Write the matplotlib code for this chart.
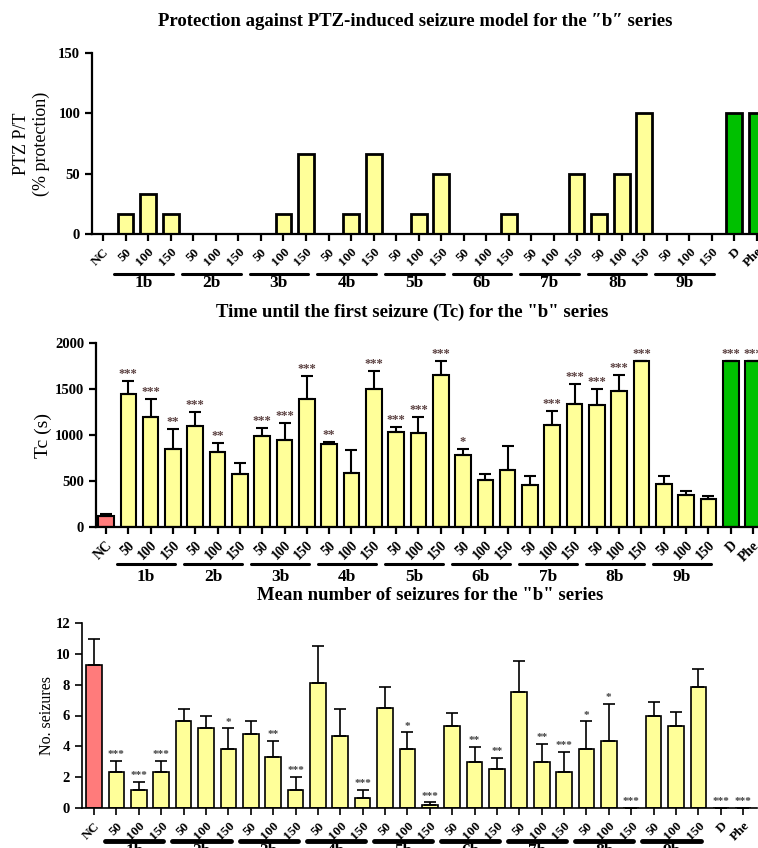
import matplotlib.pyplot as plt
import matplotlib.transforms as mtransforms

plt.rcParams['font.family'] = ['Liberation Serif', 'DejaVu Serif']
plt.rcParams['font.weight'] = 'bold'

labels = ['NC'] + ['50', '100', '150'] * 9 + ['D', 'Phe']
groups = ['1b', '2b', '3b', '4b', '5b', '6b', '7b', '8b', '9b']

# % protection
prot = [0,
        16.7, 33.3, 16.7,
        0, 0, 0,
        0, 16.7, 66.7,
        0, 16.7, 66.7,
        0, 16.7, 50,
        0, 0, 16.7,
        0, 0, 50,
        16.7, 50, 100,
        0, 0, 0,
        100, 100]

# time until first seizure (s)
tc = [120,
      1449, 1192, 848,
      1101, 819, 580,
      989, 949, 1391,
      902, 590, 1500,
      1033, 1022, 1649,
      779, 511, 620,
      460, 1109, 1341,
      1330, 1482, 1800,
      471, 351, 301,
      1800, 1800]
tc_err = [21,
          134, 203, 217,
          149, 98, 119,
          83, 181, 254,
          26, 251, 196,
          50, 170, 152,
          72, 61, 257,
          91, 152, 213,
          170, 174, 0,
          80, 40, 40,
          0, 0]
tc_sig = ['',
          '***', '***', '**',
          '***', '**', '',
          '***', '***', '***',
          '**', '', '***',
          '***', '***', '***',
          '*', '', '',
          '', '***', '***',
          '***', '***', '***',
          '', '', '',
          '***', '***']

# mean number of seizures
ns = [9.30,
      2.36, 1.19, 2.36,
      5.66, 5.17, 3.83,
      4.82, 3.33, 1.19,
      8.13, 4.69, 0.67,
      6.49, 3.83, 0.19,
      5.32, 3.00, 2.53,
      7.50, 3.00, 2.36,
      3.83, 4.32, 0,
      5.99, 5.32, 7.83,
      0, 0]
ns_err = [1.66,
          0.71, 0.50, 0.71,
          0.74, 0.82, 1.34,
          0.80, 1.04, 0.82,
          2.36, 1.71, 0.52,
          1.38, 1.08, 0.18,
          0.84, 0.96, 0.73,
          2.06, 1.15, 1.27,
          1.79, 2.43, 0,
          0.89, 0.89, 1.21,
          0, 0]
ns_sig = ['',
          '***', '***', '***',
          '', '', '*',
          '', '**', '***',
          '', '', '***',
          '', '*', '***',
          '', '**', '**',
          '', '**', '***',
          '*', '*', '***',
          '', '', '',
          '***', '***']

YELLOW = '#ffff99'
GREEN = '#00c000'
RED = '#ff7b7b'
STAR = '#5a4040'

x = list(range(len(labels)))
colors_top = [YELLOW] * 28 + [GREEN, GREEN]
colors_all = [RED] + [YELLOW] * 27 + [GREEN, GREEN]

fig = plt.figure(figsize=(7.58, 8.48), dpi=100)
W, H = 758.0, 848.0


def make_ax(left_px, right_px, top_px, bottom_px):
    return fig.add_axes([left_px / W, 1 - bottom_px / H,
                         (right_px - left_px) / W, (bottom_px - top_px) / H])


def style(ax, lw, tl_size, line_y, lab_y, grp_lw):
    for s in ['top', 'right']:
        ax.spines[s].set_visible(False)
    for s in ['left', 'bottom']:
        ax.spines[s].set_linewidth(lw)
    ax.tick_params(direction='out', length=5, width=lw, labelsize=10.5)
    ax.set_xticks(x)
    ax.set_xticklabels(labels, rotation=45, ha='right', rotation_mode='anchor',
                       fontsize=tl_size)
    trans = mtransforms.blended_transform_factory(ax.transData, ax.transAxes)
    for g, name in enumerate(groups):
        first = 1 + 3 * g
        ax.plot([first - 0.5, first + 2.1], [line_y, line_y], color='black',
                lw=grp_lw, transform=trans, clip_on=False, solid_capstyle='round')
        ax.text(first + 0.8, lab_y, name, transform=trans, ha='center',
                va='center', fontsize=12.5)


# ---- top: protection ----
ax1 = make_ax(92, 770, 53, 234)
ax1.bar(x, prot, width=0.7, color=colors_top, edgecolor='black', linewidth=2)
ax1.set_xlim(-0.49, 29.58)
ax1.set_ylim(0, 150)
ax1.set_yticks([0, 50, 100, 150])
ax1.set_ylabel('PTZ P/T\n(% protection)', fontsize=13, labelpad=6)
style(ax1, 1.6, 9.5, -0.221, -0.27, 2.2)
fig.text(415 / W, 1 - 22 / H, 'Protection against PTZ-induced seizure model for the \u2033b\u2033 series',
         ha='center', va='center', fontsize=13.5)

# ---- middle: Tc ----
ax2 = make_ax(96, 770, 343, 527)
ax2.bar(x, tc, width=0.7, color=colors_all, edgecolor='black', linewidth=1.5)
ax2.errorbar(x, tc, yerr=[[0] * len(tc), tc_err], fmt='none', ecolor='black',
             elinewidth=1.5, capsize=4, capthick=1.5)
for i in x:
    if tc_sig[i]:
        ax2.text(i, tc[i] + tc_err[i] + 10, tc_sig[i], ha='center', va='bottom',
                 fontsize=9, color=STAR)
ax2.set_xlim(-0.45, 29.76)
ax2.set_ylim(0, 2000)
ax2.set_yticks([0, 500, 1000, 1500, 2000])
ax2.set_ylabel('Tc (s)', fontsize=14, labelpad=2)
style(ax2, 1.6, 10, -0.2, -0.27, 2.2)
fig.text(412 / W, 1 - 312 / H, 'Time until the first seizure (Tc) for the "b" series',
         ha='center', va='center', fontsize=13.5)

# ---- bottom: number of seizures ----
ax3 = make_ax(82, 757, 623, 808)
ax3.bar(x, ns, width=0.7, color=colors_all, edgecolor='black', linewidth=1.2)
ax3.errorbar(x, ns, yerr=[[0] * len(ns), ns_err], fmt='none', ecolor='black',
             elinewidth=1.2, capsize=4, capthick=1.2)
for i in x:
    if ns_sig[i]:
        ax3.text(i, ns[i] + ns_err[i] + 0.1, ns_sig[i], ha='center', va='bottom',
                 fontsize=8, color='#404040')
ax3.set_xlim(-0.54, 29.62)
ax3.set_ylim(0, 12)
ax3.set_yticks(range(0, 13, 2))
ax3.set_ylabel('No. seizures', fontsize=11.5, labelpad=0)
style(ax3, 1.2, 9.5, -0.178, -0.235, 3.5)
ax3.spines['bottom'].set_bounds(-0.54, 29.62)
fig.text(430 / W, 1 - 596 / H, 'Mean number of seizures for the "b" series',
         ha='center', va='center', fontsize=13.5)

fig.savefig('out.png', dpi=100)
